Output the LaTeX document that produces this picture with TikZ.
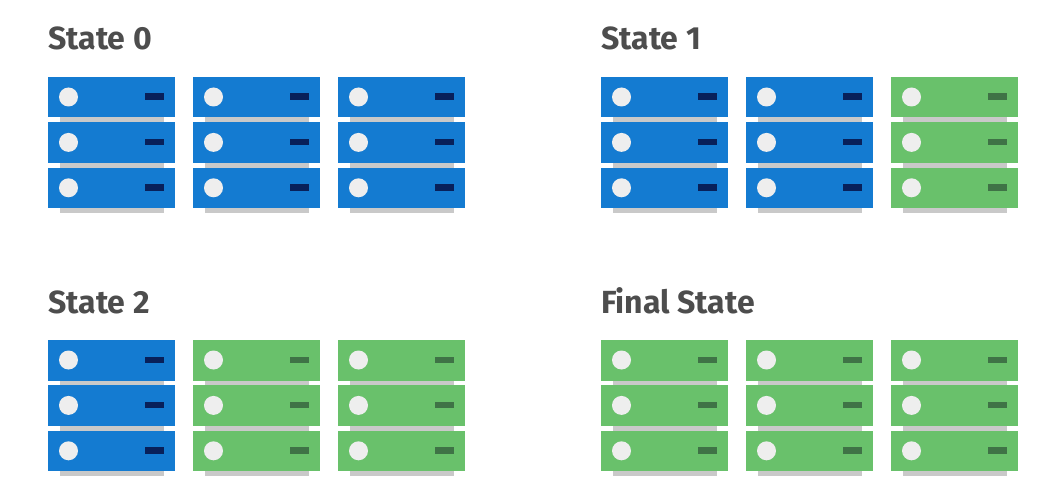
\documentclass[tikz,border=0pt]{standalone}
\usepackage{fontspec}
\setmainfont{Fira Sans}
\definecolor{upblue}{HTML}{147BD1}
\definecolor{upbluedash}{HTML}{08205A}
\definecolor{upgreen}{HTML}{69C16B}
\definecolor{upgreendash}{HTML}{3F7346}
\definecolor{unitlight}{HTML}{EEEEEE}
\definecolor{unitshadow}{HTML}{C9C9C9}
\definecolor{titlegray}{HTML}{4D4D4D}
\tikzset{
    statetitle/.style={anchor=base west, inner sep=0pt, font=\fontsize{32}{38}\selectfont\bfseries, text=titlegray},
    unitshadowbar/.style={fill=unitshadow},
    unitlamp/.style={fill=unitlight},
}
% One column of three server units; #1 = body colour, #2 = dash colour
\newcommand{\serverrack}[2]{
    \foreach \row in {0,1,2} {
        \begin{scope}[shift={(0,45.4*\row)}]
            \fill[unitshadowbar] (11.5,40) rectangle (116,45.5);
            \fill[#1] (0,0) rectangle (127,40.5);
            \fill[unitlamp] (20.5,20) circle (9.5);
            \fill[#2] (97,16.5) rectangle (116,23);
        \end{scope}
    }
}
\begin{document}
\begin{tikzpicture}[x=1pt, y=-1pt]
    \useasboundingbox (0,0) rectangle (1049,497);

    % State 0
    \node[statetitle] (title0) at (48,50) {State 0};
    \begin{scope}[shift={(48,77)}]
        \serverrack{upblue}{upbluedash}
    \end{scope}
    \begin{scope}[shift={(193,77)}]
        \serverrack{upblue}{upbluedash}
    \end{scope}
    \begin{scope}[shift={(338,77)}]
        \serverrack{upblue}{upbluedash}
    \end{scope}

    % State 1
    \node[statetitle] (title1) at (601,50) {State 1};
    \begin{scope}[shift={(601,77)}]
        \serverrack{upblue}{upbluedash}
    \end{scope}
    \begin{scope}[shift={(746,77)}]
        \serverrack{upblue}{upbluedash}
    \end{scope}
    \begin{scope}[shift={(891,77)}]
        \serverrack{upgreen}{upgreendash}
    \end{scope}

    % State 2
    \node[statetitle] (title2) at (48,313) {State 2};
    \begin{scope}[shift={(48,340)}]
        \serverrack{upblue}{upbluedash}
    \end{scope}
    \begin{scope}[shift={(193,340)}]
        \serverrack{upgreen}{upgreendash}
    \end{scope}
    \begin{scope}[shift={(338,340)}]
        \serverrack{upgreen}{upgreendash}
    \end{scope}

    % Final state
    \node[statetitle] (title3) at (601,313) {Final State};
    \begin{scope}[shift={(601,340)}]
        \serverrack{upgreen}{upgreendash}
    \end{scope}
    \begin{scope}[shift={(746,340)}]
        \serverrack{upgreen}{upgreendash}
    \end{scope}
    \begin{scope}[shift={(891,340)}]
        \serverrack{upgreen}{upgreendash}
    \end{scope}
\end{tikzpicture}
\end{document}
